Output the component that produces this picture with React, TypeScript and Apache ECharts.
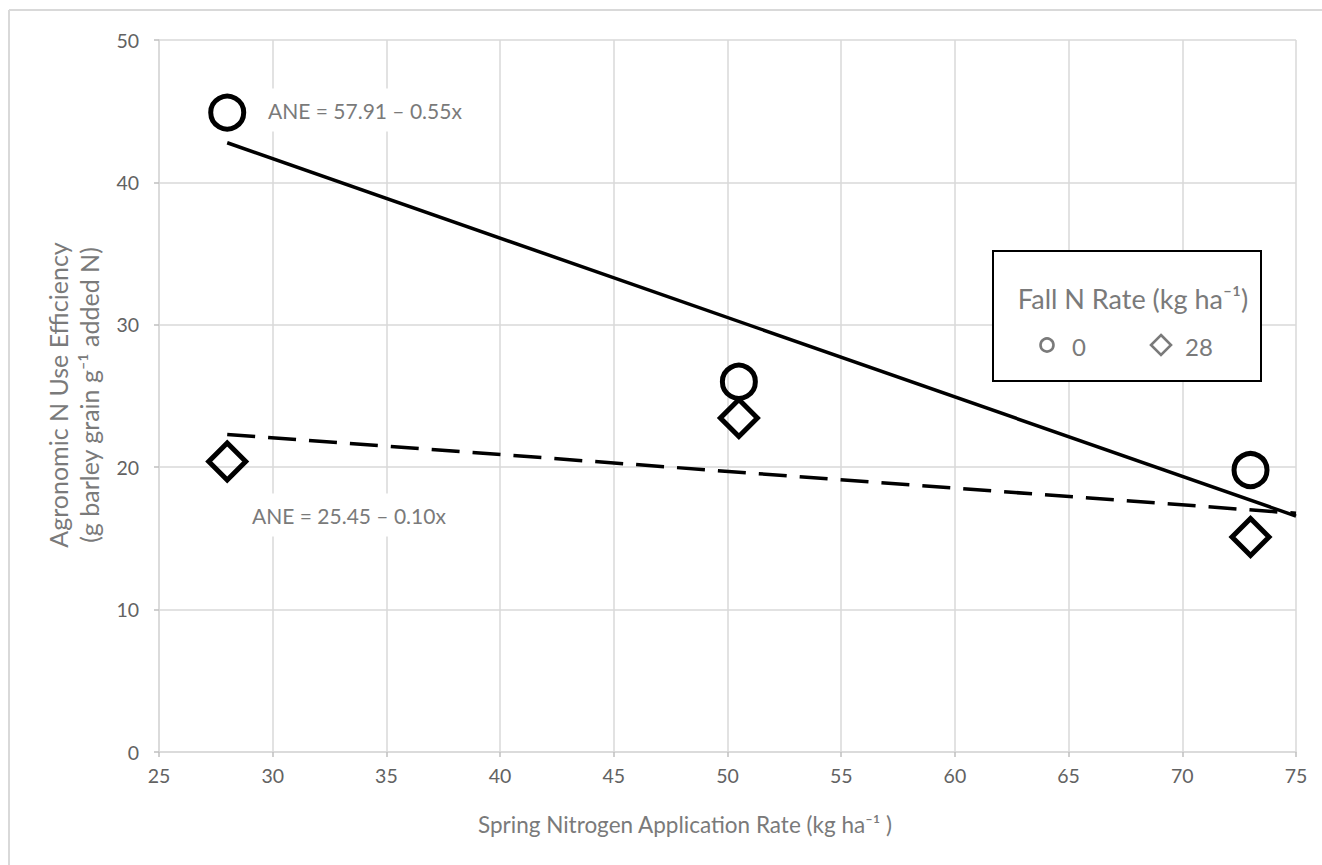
import React, { useEffect, useRef } from "react";
import * as echarts from "echarts";

// ---- data ----
const springN = [28, 50.5, 73];
const fallN0 = [44.9, 26.0, 19.8];
const fallN28 = [20.4, 23.45, 15.1];
const trendX = [28, 75];

const X_MIN = 25;
const X_MAX = 75;
const X_STEP = 5;
const Y_MIN = 0;
const Y_MAX = 50;
const Y_STEP = 10;

const legendTitle = "Fall N Rate (kg ha\u207B\u00B9)";
const legendNames = ["0", "28"];
const eq0 = "ANE = 57.91 \u2013 0.55x";
const eq28 = "ANE = 25.45 \u2013 0.10x";
const xTitle = "Spring Nitrogen Application Rate (kg ha\u207B\u00B9 )";
const yTitle1 = "Agronomic N Use Efficiency";
const yTitle2 = "(g barley grain g\u207B\u00B9 added N)";

const FONT = "Lato";
const GRAY = "#7a7a7a";
const TICK = "#626262";
const GRID = "#d9d9d9";

function linearFit(xs: number[], ys: number[]) {
  const n = xs.length;
  const mx = xs.reduce((a, b) => a + b, 0) / n;
  const my = ys.reduce((a, b) => a + b, 0) / n;
  let sxy = 0;
  let sxx = 0;
  for (let i = 0; i < n; i++) {
    sxy += (xs[i] - mx) * (ys[i] - my);
    sxx += (xs[i] - mx) * (xs[i] - mx);
  }
  const slope = sxy / sxx;
  return { slope, intercept: my - slope * mx };
}

function trendData(ys: number[]) {
  const f = linearFit(springN, ys);
  return trendX.map((x) => [x, f.intercept + f.slope * x]);
}

export default function App() {
  const ref = useRef<HTMLDivElement>(null);

  useEffect(() => {
    if (!ref.current) return;
    const chart = echarts.init(ref.current, null, { renderer: "svg" });

    const axisCommon = {
      axisLine: { show: true, lineStyle: { color: GRID, width: 1.5 } },
      axisTick: { show: true, length: 5, lineStyle: { color: "#bfbfbf", width: 1.5 } },
      splitLine: { show: true, lineStyle: { color: GRID, width: 1.5 } },
    };

    const textStyle = (size: number) => ({
      fill: GRAY,
      fontSize: size,
      fontFamily: FONT,
    });

    const txt = (
      text: string,
      x: number,
      y: number,
      size: number,
      align: string,
      extra: any = {}
    ) => ({
      type: "text",
      z: 101,
      x,
      y,
      ...extra,
      style: {
        text,
        ...textStyle(size),
        align,
        verticalAlign: "middle",
        textAlign: align,
        textVerticalAlign: "middle",
        ...(extra.style || {}),
      },
    });

    chart.setOption({
      animation: false,
      backgroundColor: "#ffffff",
      grid: { left: 159, right: 26, top: 40, bottom: 113 },
      xAxis: {
        type: "value",
        min: X_MIN,
        max: X_MAX,
        interval: X_STEP,
        ...axisCommon,
        axisLabel: { color: TICK, fontSize: 19.5, fontFamily: FONT, margin: 13 },
      },
      yAxis: {
        type: "value",
        min: Y_MIN,
        max: Y_MAX,
        interval: Y_STEP,
        ...axisCommon,
        axisLabel: { color: TICK, fontSize: 19.5, fontFamily: FONT, margin: 20 },
      },
      series: [
        {
          name: "trend 0",
          type: "line",
          data: trendData(fallN0),
          symbol: "none",
          lineStyle: { color: "#000", width: 3.5 },
          silent: true,
          z: 2,
        },
        {
          name: "trend 28",
          type: "line",
          data: trendData(fallN28),
          symbol: "none",
          lineStyle: { color: "#000", width: 3.5, type: [28, 13] },
          silent: true,
          z: 2,
        },
        {
          name: legendNames[0],
          type: "scatter",
          data: springN.map((x, i) => [x, fallN0[i]]),
          symbol: "circle",
          symbolSize: 33,
          itemStyle: { color: "rgba(0,0,0,0)", borderColor: "#000", borderWidth: 5, opacity: 1 },
          z: 3,
        },
        {
          name: legendNames[1],
          type: "scatter",
          data: springN.map((x, i) => [x, fallN28[i]]),
          symbol: "diamond",
          symbolSize: 37,
          itemStyle: { color: "rgba(0,0,0,0)", borderColor: "#000", borderWidth: 5, opacity: 1 },
          z: 3,
        },
      ],
      graphic: [
        // outer chart border (top & left visible)
        { type: "line", z: 100, shape: { x1: 9, y1: 10, x2: 1322, y2: 10 }, style: { stroke: GRID, lineWidth: 2 } },
        { type: "line", z: 100, shape: { x1: 9, y1: 10, x2: 9, y2: 865 }, style: { stroke: GRID, lineWidth: 2 } },
        // equations
        txt(eq0, 257, 110, 21, "left", {
          style: { backgroundColor: "#fff", padding: [11, 11, 11, 11] },
        }),
        txt(eq28, 241, 515, 21, "left", {
          style: { backgroundColor: "#fff", padding: [11, 11, 11, 11] },
        }),
        // legend box
        {
          type: "rect",
          z: 100,
          shape: { x: 993, y: 251, width: 268, height: 130 },
          style: { fill: "#fff", stroke: "#000", lineWidth: 2 },
        },
        txt(legendTitle, 1133, 298, 27, "center"),
        {
          type: "circle",
          z: 101,
          shape: { cx: 1047, cy: 345, r: 6.5 },
          style: { fill: "none", stroke: GRAY, lineWidth: 2.6 },
        },
        txt(legendNames[0], 1072, 346, 24, "left"),
        {
          type: "polygon",
          z: 101,
          shape: { points: [[1161, 335], [1171, 345], [1161, 355], [1151, 345]] },
          style: { fill: "none", stroke: GRAY, lineWidth: 2.6 },
        },
        txt(legendNames[1], 1185, 346, 24, "left"),
        // axis titles
        txt(xTitle, 685, 824, 22.5, "center"),
        txt(yTitle1, 58, 395, 25, "center", { rotation: Math.PI / 2 }),
        txt(yTitle2, 89, 395, 25, "center", { rotation: Math.PI / 2 }),
      ],
    });

    return () => chart.dispose();
  }, []);

  return (
    <div
      ref={ref}
      style={{ position: "fixed", left: 0, top: 0, width: 1322, height: 865, background: "#fff" }}
    />
  );
}
